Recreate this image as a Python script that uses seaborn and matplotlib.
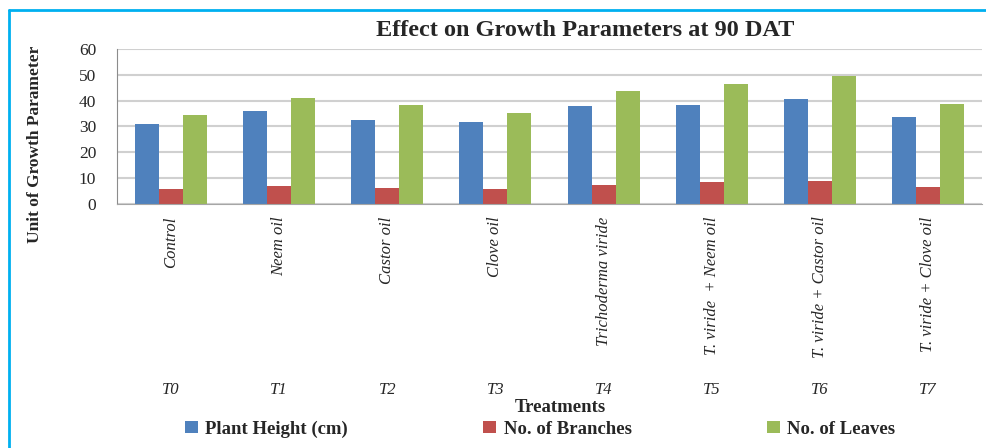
import numpy as np
import pandas as pd
import matplotlib.pyplot as plt
import seaborn as sns
from matplotlib.lines import Line2D

treatments = ["Control", "Neem oil", "Castor oil", "Clove oil", "Trichoderma viride",
              "T. viride  + Neem oil", "T. viride + Castor oil", "T. viride + Clove oil"]
codes = ["T0", "T1", "T2", "T3", "T4", "T5", "T6", "T7"]
plant_height = [30.8, 35.9, 32.6, 31.6, 37.8, 38.2, 40.8, 33.6]
branches = [5.8, 6.8, 6.3, 5.8, 7.4, 8.4, 8.9, 6.6]
leaves = [34.3, 41.2, 38.2, 35.2, 43.7, 46.6, 49.7, 38.6]
series = ["Plant Height (cm)", "No. of Branches", "No. of Leaves"]
colors = ["#4F81BD", "#C0504D", "#9BBB59"]

df = pd.DataFrame({"Treatment": treatments, series[0]: plant_height,
                   series[1]: branches, series[2]: leaves})
long_df = df.melt(id_vars="Treatment", var_name="Parameter", value_name="Value")

sns.set_style("white")
plt.rcParams["font.family"] = ["Liberation Serif", "DejaVu Serif"]

fig = plt.figure(figsize=(9.87, 4.48), dpi=100)
ax = fig.add_axes([117 / 987, 1 - 204 / 448, 865 / 987, 155 / 448])

sns.barplot(data=long_df, x="Treatment", y="Value", hue="Parameter",
            palette=colors, width=0.667, gap=0, saturation=1, linewidth=0, ax=ax)

handles, labels = ax.get_legend_handles_labels()
ax.legend_.remove()

ax.set_xlim(-0.5, 7.5)
ax.set_ylim(0, 60)
ax.set_yticks(range(0, 61, 10))
ax.yaxis.grid(True, color="#D0D0D0", lw=1.5)
ax.set_axisbelow(True)
for s in ["top", "right"]:
    ax.spines[s].set_visible(False)
ax.spines["left"].set_color("#8C8C8C")
ax.spines["bottom"].set_color("#A6A6A6")
ax.tick_params(axis="y", length=5, width=1.5, color="#D0D0D0", pad=10, labelsize=12.5)
ax.tick_params(axis="x", which="major", length=0, pad=9)
ax.set_xticks(np.arange(-0.5, 8, 1), minor=True)
ax.tick_params(axis="x", which="minor", length=146, width=1, color="#999999")
ax.set_xticks(range(8))
ax.set_xticklabels(treatments, rotation=90, style="italic", fontsize=12)
ax.set_xlabel("")
ax.set_ylabel("")

for i, c in enumerate(codes):
    ax.text(i, -(390 - 204) / 155, c, transform=ax.get_xaxis_transform(),
            ha="center", va="center", style="italic", fontsize=12)

fig.text(560 / 987, 1 - 407 / 448, "Treatments", ha="center", va="center",
         fontsize=13.5, fontweight="bold")
fig.text(35 / 987, 1 - 144 / 448, "Unit of Growth Parameter", rotation=90,
         ha="center", va="center", fontsize=12.5, fontweight="bold")
fig.text(585 / 987, 1 - 30 / 448, "Effect on Growth Parameters at 90 DAT",
         ha="center", va="center", fontsize=17.5, fontweight="bold")

fig.legend(handles, labels, loc="center", bbox_to_anchor=(540 / 987, 1 - 429 / 448),
           ncol=3, frameon=False, handlelength=0.7, handleheight=0.6,
           handletextpad=0.4, columnspacing=7.2, prop={"weight": "bold", "size": 13.5})

fig.add_artist(Line2D([9 / 987, 9 / 987], [0, 1 - 10 / 448], transform=fig.transFigure,
                      color="#00B0F0", lw=2))
fig.add_artist(Line2D([9 / 987, 1], [1 - 10 / 448, 1 - 10 / 448], transform=fig.transFigure,
                      color="#00B0F0", lw=2))

fig.savefig("out.png", dpi=100)
